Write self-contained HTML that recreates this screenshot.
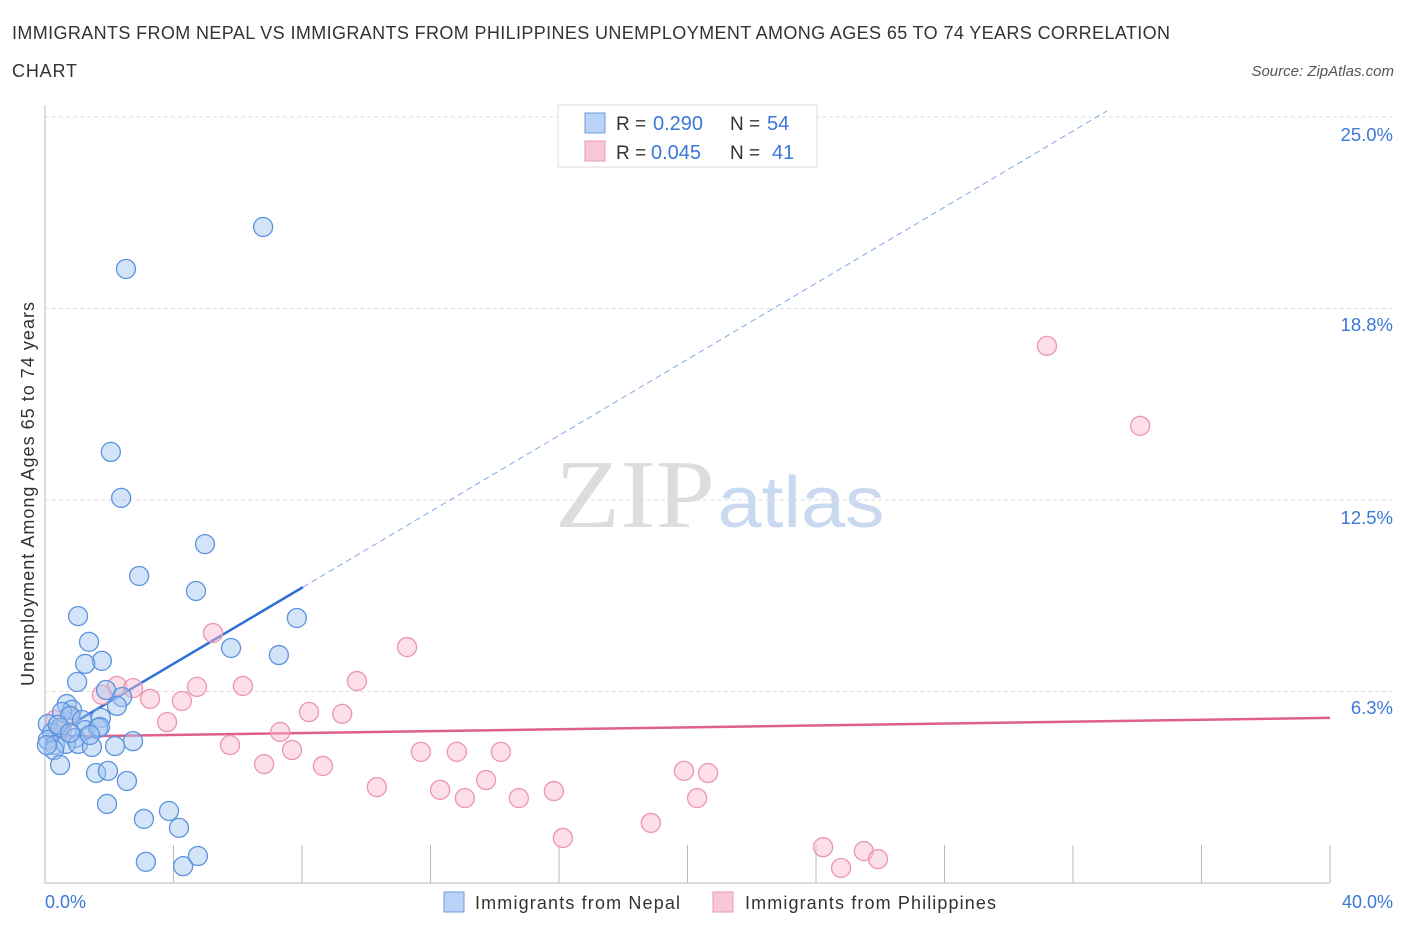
<!DOCTYPE html>
<html><head><meta charset="utf-8"><style>
body{margin:0;background:#fff;font-family:"Liberation Sans",sans-serif;}
</style></head><body>
<svg id="chart" width="1406" height="930" xmlns="http://www.w3.org/2000/svg" font-family="Liberation Sans, sans-serif">
<text x="12" y="39" font-size="18" fill="#333" textLength="1158" lengthAdjust="spacing">IMMIGRANTS FROM NEPAL VS IMMIGRANTS FROM PHILIPPINES UNEMPLOYMENT AMONG AGES 65 TO 74 YEARS CORRELATION</text>
<text x="12" y="77" font-size="18" fill="#333" textLength="65" lengthAdjust="spacing">CHART</text>
<text x="1394" y="76" font-size="15" fill="#555" font-style="italic" text-anchor="end">Source: ZipAtlas.com</text>
<text x="635" y="527" font-size="98" fill="#ddd" font-family="Liberation Serif, serif" text-anchor="middle" textLength="160" lengthAdjust="spacingAndGlyphs">ZIP</text>
<text x="801" y="527" font-size="72" fill="#c9d9f0" text-anchor="middle" textLength="167" lengthAdjust="spacingAndGlyphs">atlas</text>
<g id="grid"></g><g id="axes"></g><g id="lines"></g><g id="pts"></g>
<text transform="translate(34,494) rotate(-90)" font-size="18" fill="#333" text-anchor="middle" textLength="384" lengthAdjust="spacing">Unemployment Among Ages 65 to 74 years</text>
<text x="45" y="908" font-size="18" fill="#3b78d8">0.0%</text>
<text x="1393" y="908" font-size="18" fill="#3b78d8" text-anchor="end">40.0%</text>
<g>
<rect x="558" y="105" width="259" height="62" fill="#fff" stroke="#ddd"/>
<rect x="585" y="113" width="20" height="20" fill="#b9d2f5" stroke="#6a9de0"/>
<rect x="585" y="141" width="20" height="20" fill="#f8c8d6" stroke="#e99ab2"/>
<text x="616" y="130" font-size="19" fill="#333">R =</text><text x="653" y="130" font-size="20" fill="#3b78d8">0.290</text>
<text x="730" y="130" font-size="19" fill="#333">N =</text><text x="767" y="130" font-size="20" fill="#3b78d8">54</text>
<text x="616" y="159" font-size="19" fill="#333">R =</text><text x="651" y="159" font-size="20" fill="#3b78d8">0.045</text>
<text x="730" y="159" font-size="19" fill="#333">N =</text><text x="772" y="159" font-size="20" fill="#3b78d8">41</text>
</g>
<g><rect x="444" y="892" width="20" height="20" fill="#b9d2f5" stroke="#6a9de0"/><text x="475" y="909" font-size="18" fill="#333" textLength="205" lengthAdjust="spacing">Immigrants from Nepal</text></g>
<g><rect x="713" y="892" width="20" height="20" fill="#f8c8d6" stroke="#e99ab2"/><text x="745" y="909" font-size="18" fill="#333" textLength="251" lengthAdjust="spacing">Immigrants from Philippines</text></g>
</svg>
<script>
const yTicks=[6.3,12.5,18.8,25.0];
const yTickLabels=["6.3%","12.5%","18.8%","25.0%"];
const xTicks=[0,4,8,12,16,20,24,28,32,36,40];
const nepalX=[6.79,2.52,2.05,2.37,4.98,2.93,4.70,7.84,1.03,1.37,5.79,7.28,1.77,1.25,1.00,1.90,2.40,2.24,0.68,0.84,0.53,0.09,0.78,1.15,1.74,0.22,0.47,1.25,1.65,0.93,0.09,0.31,0.65,1.03,1.46,2.18,2.74,0.28,0.47,1.59,1.96,2.55,1.93,3.86,3.08,4.17,3.14,4.30,4.76,0.06,1.71,0.40,0.78,1.40];
const nepalY=[21.41,20.04,14.07,12.57,11.06,10.02,9.53,8.65,8.71,7.87,7.67,7.44,7.25,7.15,6.56,6.30,6.07,5.78,5.84,5.65,5.58,5.19,5.45,5.32,5.39,4.90,5.06,4.99,5.06,4.73,4.67,4.50,4.54,4.54,4.44,4.47,4.63,4.34,3.85,3.59,3.66,3.33,2.58,2.35,2.09,1.80,0.69,0.55,0.88,4.50,5.09,5.16,4.90,4.83];
const philX=[31.19,34.09,5.23,11.27,6.16,9.71,4.73,2.24,2.74,3.27,1.77,4.26,8.22,9.25,3.80,7.32,5.76,7.69,11.70,12.82,14.19,6.82,8.65,13.73,10.33,12.30,15.84,13.07,14.75,20.30,19.89,20.64,18.86,16.12,24.22,25.49,25.93,24.78,0.31,0.78,0.53];
const philY=[17.53,14.92,8.16,7.70,6.43,6.59,6.40,6.43,6.36,6.01,6.14,5.94,5.58,5.52,5.25,4.93,4.50,4.34,4.28,4.28,4.28,3.88,3.82,3.36,3.13,3.04,3.00,2.77,2.77,2.77,3.66,3.59,1.96,1.47,1.17,1.04,0.78,0.49,5.32,5.48,4.99];
const nepalLine=[4.67,0.621]; // intercept, slope
const philLine=[4.77,0.0155];
const X=v=>45+v*32.125, Y=v=>883-v*30.64;
const NS="http://www.w3.org/2000/svg";
function mk(t,a,p){const e=document.createElementNS(NS,t);for(const k in a)e.setAttribute(k,a[k]);p.appendChild(e);return e;}
const grid=document.getElementById('grid'),axes=document.getElementById('axes'),lines=document.getElementById('lines'),pts=document.getElementById('pts');
yTicks.forEach((t,i)=>{
 const gy=Y(t===6.3?6.25:t===18.8?18.75:t);
 const g=mk('line',{x1:45,x2:1393,y1:gy,y2:gy,stroke:'#ddd','stroke-dasharray':'4,3'},grid);
 
 
 const l=mk('text',{x:1393,y:Y(t)+24,'font-size':18.5,fill:'#3b78d8','text-anchor':'end'},grid);
 l.textContent=yTickLabels[i];
 
 
});
const ax=mk('line',{x1:45,x2:1330,y1:883,y2:883,stroke:'#bbb'},axes);


const ay=mk('line',{x1:45,x2:45,y1:105,y2:883,stroke:'#bbb'},axes);


xTicks.forEach(t=>{const e=mk('line',{x1:X(t),x2:X(t),y1:845,y2:883,stroke:'#bbb'},axes);
 
 });
const bEnd=8.03;
let e=mk('line',{x1:X(0),y1:Y(nepalLine[0]),x2:X(bEnd),y2:Y(nepalLine[0]+nepalLine[1]*bEnd),stroke:'#2f6fd6','stroke-width':2.5},lines);


const dEnd=(25.2-nepalLine[0])/nepalLine[1];
e=mk('line',{x1:X(bEnd),y1:Y(nepalLine[0]+nepalLine[1]*bEnd),x2:X(dEnd),y2:Y(nepalLine[0]+nepalLine[1]*dEnd),stroke:'#7fa8e6','stroke-width':1,'stroke-dasharray':'6,4'},lines);


e=mk('line',{x1:X(0),y1:Y(philLine[0]),x2:X(40),y2:Y(philLine[0]+philLine[1]*40),stroke:'#e0608c','stroke-width':2.5},lines);


philX.forEach((x,i)=>{const c=mk('circle',{cx:X(x),cy:Y(philY[i]),r:9.5,fill:'rgba(248,185,205,0.45)',stroke:'#ec94b0','stroke-width':1.3},pts);
 
 });
nepalX.forEach((x,i)=>{const c=mk('circle',{cx:X(x),cy:Y(nepalY[i]),r:9.5,fill:'rgba(160,195,240,0.45)',stroke:'#5b93de','stroke-width':1.3},pts);
 
 });
</script>
</body></html>
